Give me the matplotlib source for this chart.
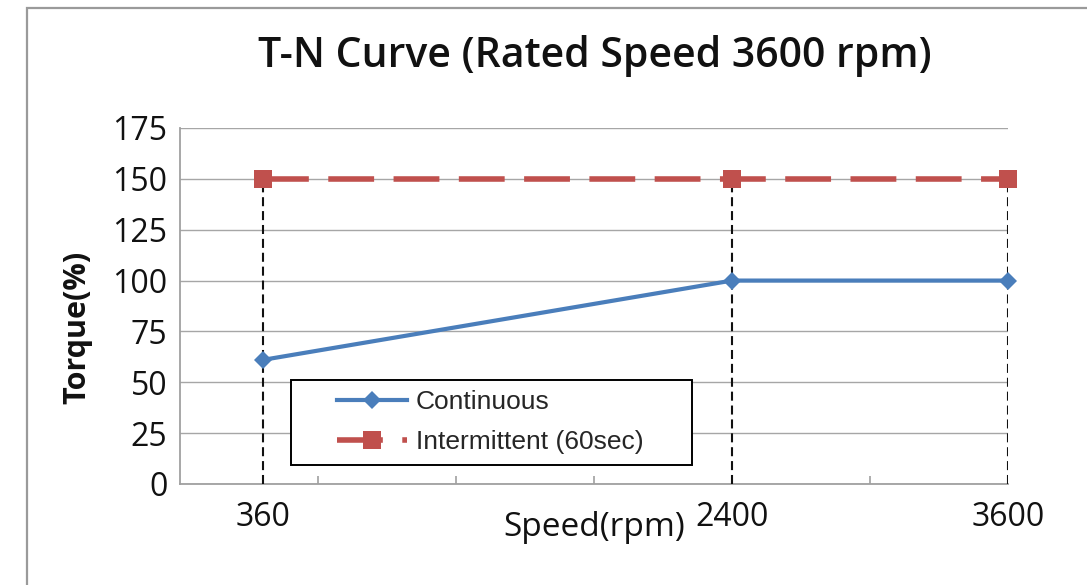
import matplotlib
matplotlib.use("Agg")
import matplotlib.pyplot as plt
from matplotlib.patches import Rectangle
from matplotlib.lines import Line2D

plt.rcParams['lines.scale_dashes'] = False
plt.rcParams['font.family'] = ['Open Sans', 'DejaVu Sans']

# ---- data ----
speed = [360, 2400, 3600]
continuous = [61, 100, 100]
intermittent = [150, 150, 150]
xtick_labels = ['360', '2400', '3600']
yticks = [0, 25, 50, 75, 100, 125, 150, 175]
minor_xticks = [600, 1200, 1800, 2400, 3000, 3600]
series_labels = ['Continuous', 'Intermittent (60sec)']
title = 'T-N Curve (Rated Speed 3600 rpm)'

blue = '#4a7ebb'
red = '#c0504d'
gray = '#a6a6a6'
txt = '#111111'

fig = plt.figure(figsize=(10.87, 5.85), dpi=100)
ax = fig.add_axes([180/1087, 1-484/585, 828/1087, 356/585])

# outer chart border
fig.add_artist(Rectangle((27/1087, -0.1), 1.2, 1.1 - 8/585, transform=fig.transFigure,
                         fill=False, edgecolor='#9a9a9a', lw=1.6))

ax.set_xlim(0, 3600)
ax.set_ylim(0, 175)

# grid
ax.set_yticks(yticks)
ax.yaxis.grid(True, color=gray, lw=1.0)
ax.set_axisbelow(True)

for s in ['top', 'right']:
    ax.spines[s].set_visible(False)
for s in ['left', 'bottom']:
    ax.spines[s].set_color('#a0a0a0')
    ax.spines[s].set_linewidth(1.3)

ax.tick_params(axis='y', length=0, pad=9, labelsize=23, labelcolor=txt)
ax.set_xticks(speed)
ax.set_xticklabels(xtick_labels)
ax.set_xticks(minor_xticks, minor=True)
ax.tick_params(axis='x', which='major', length=0, pad=12, labelsize=23, labelcolor=txt)
ax.tick_params(axis='x', which='minor', direction='in', length=6, width=1.2, color='#a0a0a0')

# vertical dashed guide lines
ax.vlines(speed, 0, intermittent, colors='#111111', lw=1.5,
          linestyles=[(0, (6.5, 3.5))], zorder=3)

# series
ax.plot(speed, intermittent, color=red, lw=4.0, dashes=(33, 14), marker='s',
        markersize=12.5, markeredgewidth=0, clip_on=False, zorder=4)
ax.plot(speed, continuous, color=blue, lw=3.0, marker='D', markersize=9.5,
        markeredgewidth=0, clip_on=False, zorder=5)

# title and labels
fig.text(595/1087, 1-56/585, title, ha='center', va='center', fontsize=29.5,
         fontweight='semibold', color=txt)
ax.set_xlabel('Speed(rpm)', fontsize=24, color=txt, va='center')
ax.xaxis.set_label_coords(0.5, (484-528)/356)
ax.set_ylabel('Torque(%)', fontsize=22, fontweight='bold', color=txt, va='center')
ax.yaxis.set_label_coords((77-180)/828, (484-327)/356)

# legend box
ax.add_patch(Rectangle(((291-180)/828, (484-465)/356), 401/828, 85/356,
                       transform=ax.transAxes, facecolor='white', edgecolor='black',
                       lw=1.4, zorder=6))
handles = [
    Line2D([], [], color=blue, lw=3.0, marker='D', markersize=9.5, markeredgewidth=0),
    Line2D([], [], color=red, lw=4.0, dashes=(33, 14), marker='s', markersize=12.5,
           markeredgewidth=0),
]
leg = ax.legend(handles, series_labels, loc='upper left',
                bbox_to_anchor=((337-180)/828, (484-390)/356), frameon=False,
                borderpad=0, borderaxespad=0, handlelength=2.65, handletextpad=0.33,
                labelspacing=0.62, numpoints=1,
                prop={'family': ['Liberation Sans', 'DejaVu Sans'], 'size': 19})
leg.set_zorder(7)
for t in leg.get_texts():
    t.set_color('#262626')

fig.savefig('out.png', dpi=100)
